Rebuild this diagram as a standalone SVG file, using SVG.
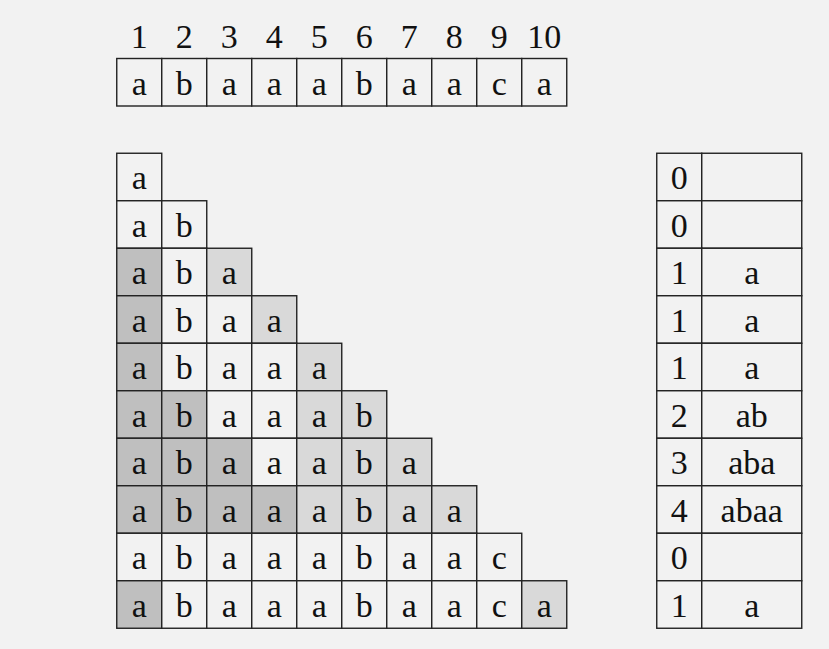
<svg xmlns="http://www.w3.org/2000/svg" width="829" height="649" viewBox="0 0 829 649">
<style>
.c{fill:#f2f2f2;stroke:#222;stroke-width:1.4}
.l{fill:#d9d9d9;stroke:#222;stroke-width:1.4}
.d{fill:#bfbfbf;stroke:#222;stroke-width:1.4}
text{font-family:"Liberation Serif","Times New Roman",serif;font-size:34px;fill:#111;text-anchor:middle}
</style>
<rect width="829" height="649" fill="#f2f2f2"/>
<g id="indices">
<text x="139.25" y="48">1</text><text x="184.25" y="48">2</text><text x="229.25" y="48">3</text><text x="274.25" y="48">4</text><text x="319.25" y="48">5</text><text x="364.25" y="48">6</text><text x="409.25" y="48">7</text><text x="454.25" y="48">8</text><text x="499.25" y="48">9</text><text x="544.25" y="48">10</text>
</g>
<g id="string">
<rect class="c" x="116.75" y="58.5" width="45" height="47.5"/><rect class="c" x="161.75" y="58.5" width="45" height="47.5"/><rect class="c" x="206.75" y="58.5" width="45" height="47.5"/><rect class="c" x="251.75" y="58.5" width="45" height="47.5"/><rect class="c" x="296.75" y="58.5" width="45" height="47.5"/><rect class="c" x="341.75" y="58.5" width="45" height="47.5"/><rect class="c" x="386.75" y="58.5" width="45" height="47.5"/><rect class="c" x="431.75" y="58.5" width="45" height="47.5"/><rect class="c" x="476.75" y="58.5" width="45" height="47.5"/><rect class="c" x="521.75" y="58.5" width="45" height="47.5"/>
<text x="139.25" y="95">a</text><text x="184.25" y="95">b</text><text x="229.25" y="95">a</text><text x="274.25" y="95">a</text><text x="319.25" y="95">a</text><text x="364.25" y="95">b</text><text x="409.25" y="95">a</text><text x="454.25" y="95">a</text><text x="499.25" y="95">c</text><text x="544.25" y="95">a</text>
</g>
<g id="triangle">
<g id="row1"><rect class="c" x="116.75" y="153.25" width="45" height="47.5"/><text x="139.25" y="189">a</text></g>
<g id="row2"><rect class="c" x="116.75" y="200.75" width="45" height="47.5"/><rect class="c" x="161.75" y="200.75" width="45" height="47.5"/><text x="139.25" y="236.5">a</text><text x="184.25" y="236.5">b</text></g>
<g id="row3"><rect class="d" x="116.75" y="248.25" width="45" height="47.5"/><rect class="c" x="161.75" y="248.25" width="45" height="47.5"/><rect class="l" x="206.75" y="248.25" width="45" height="47.5"/><text x="139.25" y="284">a</text><text x="184.25" y="284">b</text><text x="229.25" y="284">a</text></g>
<g id="row4"><rect class="d" x="116.75" y="295.75" width="45" height="47.5"/><rect class="c" x="161.75" y="295.75" width="45" height="47.5"/><rect class="c" x="206.75" y="295.75" width="45" height="47.5"/><rect class="l" x="251.75" y="295.75" width="45" height="47.5"/><text x="139.25" y="331.5">a</text><text x="184.25" y="331.5">b</text><text x="229.25" y="331.5">a</text><text x="274.25" y="331.5">a</text></g>
<g id="row5"><rect class="d" x="116.75" y="343.25" width="45" height="47.5"/><rect class="c" x="161.75" y="343.25" width="45" height="47.5"/><rect class="c" x="206.75" y="343.25" width="45" height="47.5"/><rect class="c" x="251.75" y="343.25" width="45" height="47.5"/><rect class="l" x="296.75" y="343.25" width="45" height="47.5"/><text x="139.25" y="379">a</text><text x="184.25" y="379">b</text><text x="229.25" y="379">a</text><text x="274.25" y="379">a</text><text x="319.25" y="379">a</text></g>
<g id="row6"><rect class="d" x="116.75" y="390.75" width="45" height="47.5"/><rect class="d" x="161.75" y="390.75" width="45" height="47.5"/><rect class="c" x="206.75" y="390.75" width="45" height="47.5"/><rect class="c" x="251.75" y="390.75" width="45" height="47.5"/><rect class="l" x="296.75" y="390.75" width="45" height="47.5"/><rect class="l" x="341.75" y="390.75" width="45" height="47.5"/><text x="139.25" y="426.5">a</text><text x="184.25" y="426.5">b</text><text x="229.25" y="426.5">a</text><text x="274.25" y="426.5">a</text><text x="319.25" y="426.5">a</text><text x="364.25" y="426.5">b</text></g>
<g id="row7"><rect class="d" x="116.75" y="438.25" width="45" height="47.5"/><rect class="d" x="161.75" y="438.25" width="45" height="47.5"/><rect class="d" x="206.75" y="438.25" width="45" height="47.5"/><rect class="c" x="251.75" y="438.25" width="45" height="47.5"/><rect class="l" x="296.75" y="438.25" width="45" height="47.5"/><rect class="l" x="341.75" y="438.25" width="45" height="47.5"/><rect class="l" x="386.75" y="438.25" width="45" height="47.5"/><text x="139.25" y="474">a</text><text x="184.25" y="474">b</text><text x="229.25" y="474">a</text><text x="274.25" y="474">a</text><text x="319.25" y="474">a</text><text x="364.25" y="474">b</text><text x="409.25" y="474">a</text></g>
<g id="row8"><rect class="d" x="116.75" y="485.75" width="45" height="47.5"/><rect class="d" x="161.75" y="485.75" width="45" height="47.5"/><rect class="d" x="206.75" y="485.75" width="45" height="47.5"/><rect class="d" x="251.75" y="485.75" width="45" height="47.5"/><rect class="l" x="296.75" y="485.75" width="45" height="47.5"/><rect class="l" x="341.75" y="485.75" width="45" height="47.5"/><rect class="l" x="386.75" y="485.75" width="45" height="47.5"/><rect class="l" x="431.75" y="485.75" width="45" height="47.5"/><text x="139.25" y="521.5">a</text><text x="184.25" y="521.5">b</text><text x="229.25" y="521.5">a</text><text x="274.25" y="521.5">a</text><text x="319.25" y="521.5">a</text><text x="364.25" y="521.5">b</text><text x="409.25" y="521.5">a</text><text x="454.25" y="521.5">a</text></g>
<g id="row9"><rect class="c" x="116.75" y="533.25" width="45" height="47.5"/><rect class="c" x="161.75" y="533.25" width="45" height="47.5"/><rect class="c" x="206.75" y="533.25" width="45" height="47.5"/><rect class="c" x="251.75" y="533.25" width="45" height="47.5"/><rect class="c" x="296.75" y="533.25" width="45" height="47.5"/><rect class="c" x="341.75" y="533.25" width="45" height="47.5"/><rect class="c" x="386.75" y="533.25" width="45" height="47.5"/><rect class="c" x="431.75" y="533.25" width="45" height="47.5"/><rect class="c" x="476.75" y="533.25" width="45" height="47.5"/><text x="139.25" y="569">a</text><text x="184.25" y="569">b</text><text x="229.25" y="569">a</text><text x="274.25" y="569">a</text><text x="319.25" y="569">a</text><text x="364.25" y="569">b</text><text x="409.25" y="569">a</text><text x="454.25" y="569">a</text><text x="499.25" y="569">c</text></g>
<g id="row10"><rect class="d" x="116.75" y="580.75" width="45" height="47.5"/><rect class="c" x="161.75" y="580.75" width="45" height="47.5"/><rect class="c" x="206.75" y="580.75" width="45" height="47.5"/><rect class="c" x="251.75" y="580.75" width="45" height="47.5"/><rect class="c" x="296.75" y="580.75" width="45" height="47.5"/><rect class="c" x="341.75" y="580.75" width="45" height="47.5"/><rect class="c" x="386.75" y="580.75" width="45" height="47.5"/><rect class="c" x="431.75" y="580.75" width="45" height="47.5"/><rect class="c" x="476.75" y="580.75" width="45" height="47.5"/><rect class="l" x="521.75" y="580.75" width="45" height="47.5"/><text x="139.25" y="616.5">a</text><text x="184.25" y="616.5">b</text><text x="229.25" y="616.5">a</text><text x="274.25" y="616.5">a</text><text x="319.25" y="616.5">a</text><text x="364.25" y="616.5">b</text><text x="409.25" y="616.5">a</text><text x="454.25" y="616.5">a</text><text x="499.25" y="616.5">c</text><text x="544.25" y="616.5">a</text></g>
</g>
<g id="table">
<rect class="c" x="656.75" y="153.25" width="45" height="47.5"/><rect class="c" x="701.75" y="153.25" width="100" height="47.5"/>
<rect class="c" x="656.75" y="200.75" width="45" height="47.5"/><rect class="c" x="701.75" y="200.75" width="100" height="47.5"/>
<rect class="c" x="656.75" y="248.25" width="45" height="47.5"/><rect class="c" x="701.75" y="248.25" width="100" height="47.5"/>
<rect class="c" x="656.75" y="295.75" width="45" height="47.5"/><rect class="c" x="701.75" y="295.75" width="100" height="47.5"/>
<rect class="c" x="656.75" y="343.25" width="45" height="47.5"/><rect class="c" x="701.75" y="343.25" width="100" height="47.5"/>
<rect class="c" x="656.75" y="390.75" width="45" height="47.5"/><rect class="c" x="701.75" y="390.75" width="100" height="47.5"/>
<rect class="c" x="656.75" y="438.25" width="45" height="47.5"/><rect class="c" x="701.75" y="438.25" width="100" height="47.5"/>
<rect class="c" x="656.75" y="485.75" width="45" height="47.5"/><rect class="c" x="701.75" y="485.75" width="100" height="47.5"/>
<rect class="c" x="656.75" y="533.25" width="45" height="47.5"/><rect class="c" x="701.75" y="533.25" width="100" height="47.5"/>
<rect class="c" x="656.75" y="580.75" width="45" height="47.5"/><rect class="c" x="701.75" y="580.75" width="100" height="47.5"/>
<text x="679.25" y="189">0</text>
<text x="679.25" y="236.5">0</text>
<text x="679.25" y="284">1</text><text x="751.75" y="284">a</text>
<text x="679.25" y="331.5">1</text><text x="751.75" y="331.5">a</text>
<text x="679.25" y="379">1</text><text x="751.75" y="379">a</text>
<text x="679.25" y="426.5">2</text><text x="751.75" y="426.5">ab</text>
<text x="679.25" y="474">3</text><text x="751.75" y="474">aba</text>
<text x="679.25" y="521.5">4</text><text x="751.75" y="521.5">abaa</text>
<text x="679.25" y="569">0</text>
<text x="679.25" y="616.5">1</text><text x="751.75" y="616.5">a</text>
</g>
</svg>
